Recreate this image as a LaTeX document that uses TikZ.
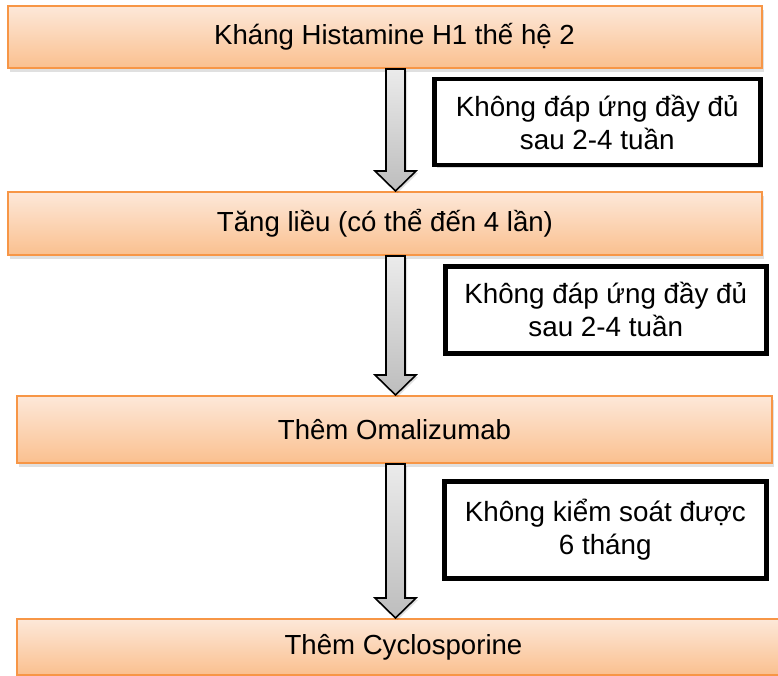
\documentclass[tikz,border=0pt]{standalone}
\usepackage{fontspec}
\setmainfont{Liberation Sans}
\usetikzlibrary{calc,shadows}
\definecolor{stepTop}{HTML}{FDE8D9}
\definecolor{stepBottom}{HTML}{FAC08F}
\definecolor{stepEdge}{HTML}{F79646}
\definecolor{arrowTop}{HTML}{EBEBEB}
\definecolor{arrowBottom}{HTML}{BDBDBD}
\tikzset{
  stepbox/.style={draw=stepEdge, line width=2pt, top color=stepTop, bottom color=stepBottom,
    rectangle, inner sep=0pt, anchor=north west,
    drop shadow={shadow xshift=2pt, shadow yshift=-4pt, fill=black, opacity=0.12},
    font=\fontsize{27.6}{31}\selectfont},
  notebox/.style={draw=black, line width=4.5pt, fill=white, rectangle, inner sep=0pt,
    anchor=north west, align=center,
    drop shadow={shadow xshift=3pt, shadow yshift=-3pt, fill=black, opacity=0.15},
    font=\fontsize{27.8}{33}\selectfont},
  flowarrow/.style={draw=black, line width=1.6pt, line join=miter,
    top color=arrowTop, bottom color=arrowBottom,
    drop shadow={shadow xshift=2pt, shadow yshift=-2pt, fill=black, opacity=0.12}},
}
% Block arrow from the bottom of one step to the top of the next
\newcommand\steparrow[2]{%
  \path[flowarrow] let \p1=(#1.south), \p2=(#2.north) in
    (386,\y1) -- (405,\y1) -- (405,\y2+20pt) -- (416,\y2+20pt) -- (395.5,\y2)
    -- (375,\y2+20pt) -- (386,\y2+20pt) -- cycle;}
\begin{document}
\begin{tikzpicture}[x=1pt,y=-1pt]
  \useasboundingbox (0,0) rectangle (778,676);
  % treatment steps
  \node[stepbox, minimum width=754pt, minimum height=62pt] (s1) at (7,5)
    {\hspace*{19pt}Kháng Histamine H1 thế hệ 2};
  \node[stepbox, minimum width=754pt, minimum height=63pt] (s2) at (7,191)
    {Tăng liều (có thể đến 4 lần)};
  \node[stepbox, minimum width=755pt, minimum height=67pt] (s3) at (16,395)
    {Thêm Omalizumab};
  \node[stepbox, minimum width=765pt, minimum height=56pt] (s4) at (16,618)
    {\hspace*{8pt}Thêm Cyclosporine};
  % conditions for moving on
  \node[notebox, minimum width=326pt, minimum height=86pt] (c1) at (432,77)
    {Không đáp ứng đầy đủ\\sau 2-4 tuần};
  \node[notebox, minimum width=321pt, minimum height=87pt] (c2) at (443,264)
    {Không đáp ứng đầy đủ\\sau 2-4 tuần};
  \node[notebox, minimum width=322pt, minimum height=97pt] (c3) at (442,479)
    {Không kiểm soát được\\6 tháng};
  % arrows between steps
  \steparrow{s1}{s2}
  \steparrow{s2}{s3}
  \steparrow{s3}{s4}
\end{tikzpicture}
\end{document}
